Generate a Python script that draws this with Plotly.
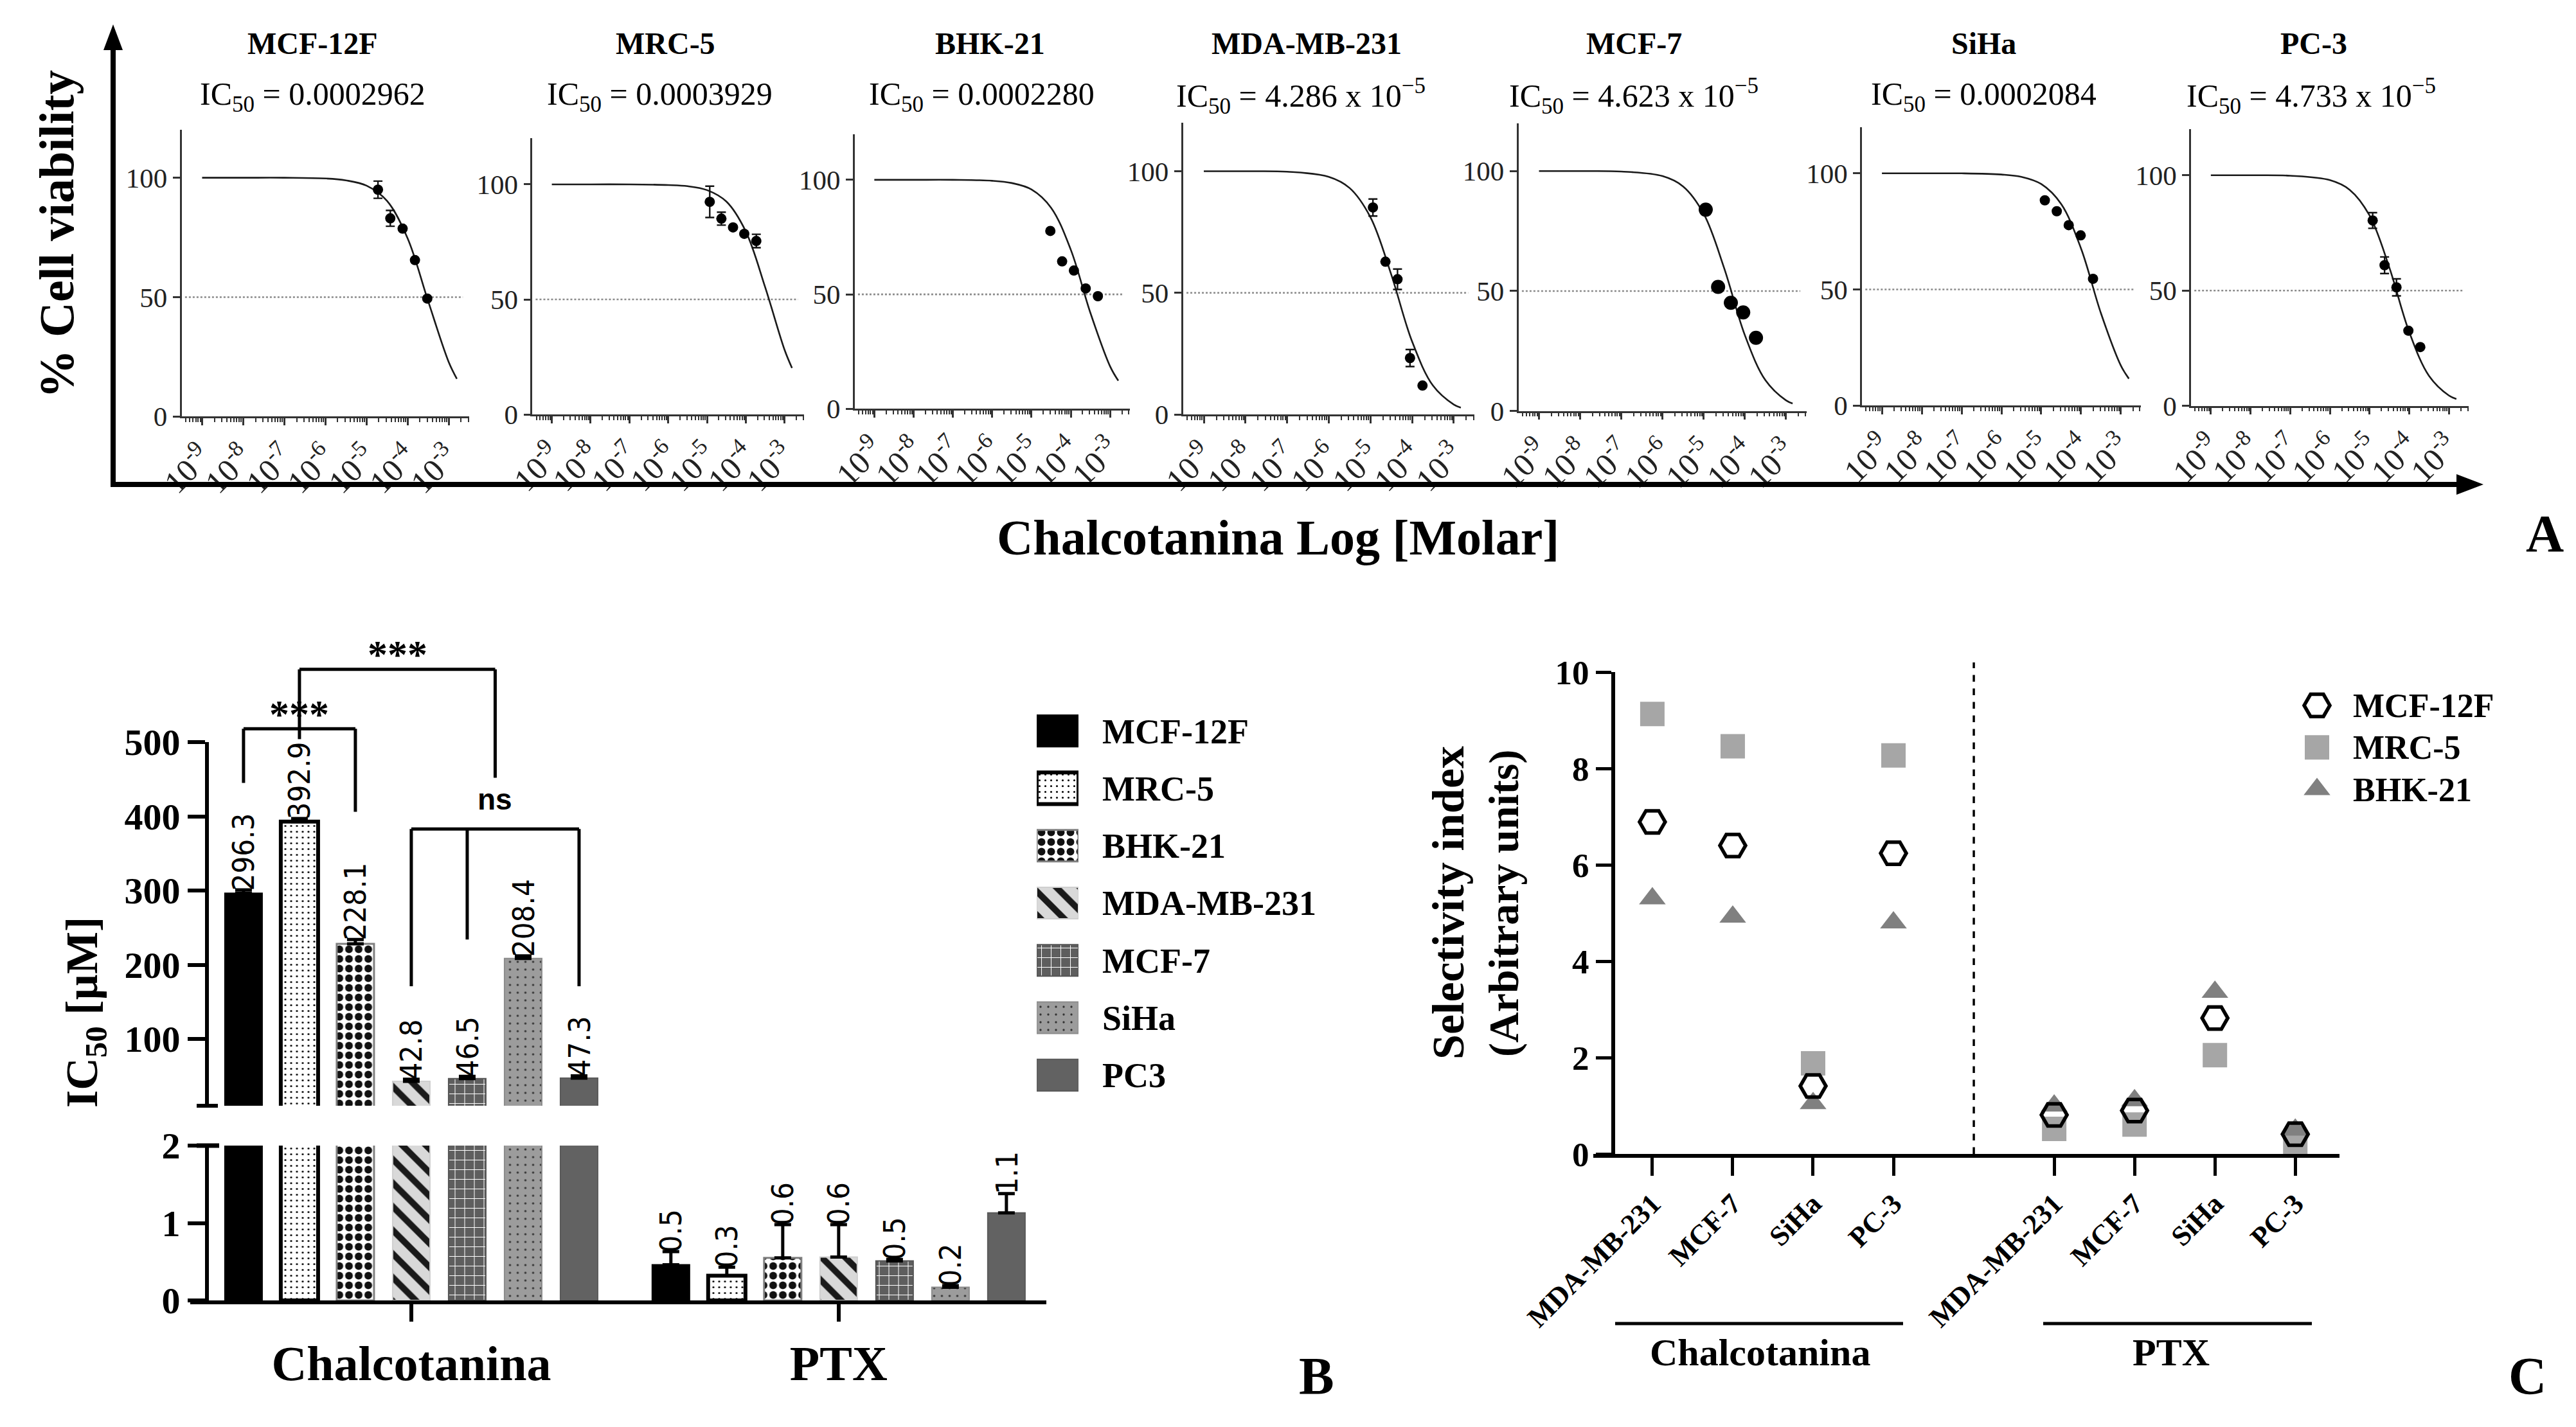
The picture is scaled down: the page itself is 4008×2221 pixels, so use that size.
import numpy as np
import plotly.graph_objects as go

W, H = 4008, 2221
SERIF = "Liberation Serif, Times New Roman, serif"
NARROW = "Liberation Sans Narrow, DejaVu Sans Condensed, Liberation Sans, sans-serif"
SANS = "Liberation Sans, Arial, sans-serif"

# ======================= DATA =======================
# ---- Panel A : dose-response curves ----
a_cells = ["MCF-12F", "MRC-5", "BHK-21", "MDA-MB-231", "MCF-7", "SiHa", "PC-3"]
a_ic50_text = ["0.0002962", "0.0003929", "0.0002280", "4.286 x 10<sup>−5</sup>",
               "4.623 x 10<sup>−5</sup>", "0.0002084", "4.733 x 10<sup>−5</sup>"]
a_tick_exp = [-9, -8, -7, -6, -5, -4, -3]
# measured points (log10 molar), % viability and SEM
a_dose_log = [
    [-4.72, -4.42, -4.12, -3.82, -3.52],
    [-4.93, -4.63, -4.33, -4.04, -3.73],
    [-4.52, -4.22, -3.92, -3.62, -3.31],
    [-4.94, -4.64, -4.35, -4.05, -3.75],
    [-4.95, -4.65, -4.34, -4.04, -3.73],
    [-4.91, -4.61, -4.31, -4.01, -3.70],
    [-4.92, -4.62, -4.32, -4.02, -3.72],
]
a_viability = [
    [95.0, 83.0, 78.7, 65.5, 49.4],
    [92.4, 85.1, 81.3, 78.5, 75.4],
    [77.7, 64.4, 60.4, 52.6, 49.2],
    [85.1, 62.8, 55.6, 23.2, 11.9],
    [83.9, 51.7, 45.1, 41.1, 30.5],
    [88.4, 83.7, 77.7, 73.3, 54.6],
    [80.4, 61.0, 51.4, 32.6, 25.5],
]
a_sem = [
    [3.6, 3.3, 0, 0, 0],
    [6.8, 2.8, 0, 0, 2.9],
    [0, 0, 0, 0, 0],
    [3.5, 0, 4.2, 3.5, 0],
    [0, 0, 0, 0, 0],
    [0, 0, 0, 0, 0],
    [3.4, 3.6, 3.7, 0, 0],
]
# fitted curves at these log10 doses
fit_log = [-9, -8, -7, -6, -5.5, -5, -4.5, -4, -3.5, -3]
fit_viability = [
    [100, 100, 100, 99.7, 98.9, 96.7, 90.3, 74.7, 48.4, 22.9],
    [100, 100, 100, 99.7, 99.2, 97.5, 92.5, 79.5, 55.2, 28.0],
    [100, 100, 100, 99.6, 98.6, 95.8, 87.8, 69.5, 41.9, 18.6],
    [100, 100, 99.8, 97.7, 93.1, 81.1, 57.5, 30.0, 11.9, 4.1],
    [100, 100, 99.8, 97.9, 93.6, 82.2, 59.4, 31.6, 12.8, 4.4],
    [100, 100, 100, 99.5, 98.5, 95.4, 86.8, 67.6, 39.7, 17.2],
    [100, 100, 99.8, 97.9, 93.7, 82.6, 60.0, 32.1, 13.0, 4.5],
]
fit_end_log = [-2.80, -2.81, -2.79, -2.83, -2.84, -2.80, -2.81]
fit_end_viability = [15.8, 20.2, 12.3, 2.8, 3.1, 11.6, 3.0]

# ---- Panel B : IC50 bars ----
b_groups = ["Chalcotanina", "PTX"]
b_series = ["MCF-12F", "MRC-5", "BHK-21", "MDA-MB-231", "MCF-7", "SiHa", "PC3"]
b_chalco = [296.3, 392.9, 228.1, 42.8, 46.5, 208.4, 47.3]
b_chalco_err = [4.5, 4.0, 6.0, 3.0, 3.0, 3.5, 3.0]
b_ptx = [0.46, 0.32, 0.55, 0.56, 0.51, 0.17, 1.13]
b_ptx_err = [0.17, 0.11, 0.43, 0.42, 0.02, 0.02, 0.25]
b_chalco_labels = ["296.3", "392.9", "228.1", "42.8", "46.5", "208.4", "47.3"]
b_ptx_labels = ["0.5", "0.3", "0.6", "0.6", "0.5", "0.2", "1.1"]

# ---- Panel C : selectivity index ----
c_groups = ["Chalcotanina", "PTX"]
c_cancer = ["MDA-MB-231", "MCF-7", "SiHa", "PC-3"]
c_series = ["MCF-12F", "MRC-5", "BHK-21"]
si_mcf12f = [6.89, 6.40, 1.41, 6.24, 0.81, 0.90, 2.82, 0.41]
si_mrc5 = [9.13, 8.46, 1.88, 8.27, 0.52, 0.61, 2.05, 0.24]
si_bhk21 = [5.30, 4.92, 1.05, 4.80, 1.00, 1.11, 3.36, 0.50]

# ======================= STYLES / POSITIONS =======================
def fx(px):
    return px / W

def fy(py):
    return 1 - py / H

def axk(letter, n):
    return f"{letter}axis" if n == 1 else f"{letter}axis{n}"

def axr(letter, n):
    return letter if n == 1 else f"{letter}{n}"

annotations = []
shapes = []

def ann(x, y, text, font, xref="paper", yref="paper", **kw):
    d = dict(x=x, y=y, xref=xref, yref=yref, text=text, font=font, showarrow=False,
             xanchor="center", yanchor="middle")
    d.update(kw)
    annotations.append(d)

# panel A plot boxes in pixels (x0, x1, ytop, ybottom)
A_box = [(274.5, 722, 194.3, 640.3), (820.4, 1243, 207.3, 637.1), (1321.8, 1749.7, 200.6, 628.4),
         (1832.6, 2286.3, 182.8, 637.1), (2354.5, 2802.9, 183.6, 631.6), (2889.1, 3322.9, 189.5, 623.3),
         (3401, 3833, 193, 623.7)]
A_name_x = [478, 1027, 1532, 2025, 2534, 3078, 3592]
A_ic_x = [478, 1018, 1519, 2016, 2534, 3078, 3588]
A_dot = [16, 16, 16, 16, 22, 16, 16]

b_style = [
    dict(color="black", pattern=dict(shape=""), line=dict(color="black", width=2)),
    dict(color="white", pattern=dict(shape=".", bgcolor="white", fgcolor="black", size=9, solidity=0.09, fillmode="replace"),
         line=dict(color="black", width=6)),
    dict(color="white", pattern=dict(shape=".", bgcolor="white", fgcolor="#111", size=15, solidity=0.5, fillmode="replace"),
         line=dict(color="#808080", width=3)),
    dict(color="#d9d9d9", pattern=dict(shape="\\", bgcolor="#d9d9d9", fgcolor="#1a1a1a", size=26, solidity=0.38, fillmode="replace"),
         line=dict(color="#cfcfcf", width=2)),
    dict(color="#5e5e5e", pattern=dict(shape="+", bgcolor="#5e5e5e", fgcolor="white", size=15, solidity=0.13, fillmode="replace"),
         line=dict(color="#555555", width=2)),
    dict(color="#9c9c9c", pattern=dict(shape=".", bgcolor="#9c9c9c", fgcolor="#333", size=12, solidity=0.06, fillmode="replace"),
         line=dict(color="#8c8c8c", width=2)),
    dict(color="#626262", pattern=dict(shape=""), line=dict(color="#5a5a5a", width=2)),
]

layout = dict(template="none", width=W, height=H, autosize=False,
              margin=dict(l=0, r=0, t=0, b=0, pad=0, autoexpand=False),
              paper_bgcolor="white", plot_bgcolor="rgba(0,0,0,0)", showlegend=False,
              barmode="group", bargap=0.084, bargroupgap=0.333,
              font=dict(family=SERIF, color="black", size=30))
fig = go.Figure()

# ======================= PANEL A =======================
for i in range(7):
    n = i + 1
    x0, x1, yt, yb = A_box[i]
    layout[axk("x", n)] = dict(
        domain=[fx(x0), fx(x1)], anchor=axr("y", n), type="log", range=[-9.5, -2.5], automargin=False,
        showline=True, linecolor="#333", linewidth=2.5, showgrid=False, zeroline=False,
        ticks="outside", ticklen=11, tickwidth=2.5, tickcolor="#333",
        tickvals=[10.0 ** e for e in a_tick_exp],
        ticktext=[f"10<sup>{e}</sup>" for e in a_tick_exp],
        tickangle=-45, tickfont=dict(family=SERIF, size=50, color="#222"),
        minor=dict(ticks="outside", ticklen=6, tickwidth=1.8, tickcolor="#333", dtick="D1", showgrid=False),
    )
    layout[axk("y", n)] = dict(
        domain=[fy(yb), fy(yt)], anchor=axr("x", n), range=[0, 120], automargin=False,
        tickvals=[0, 50, 100], showline=True, linecolor="#333", linewidth=2.5,
        showgrid=False, zeroline=False, ticks="outside", ticklen=11, tickwidth=2.5, tickcolor="#333",
        tickfont=dict(family=SERIF, size=43, color="#222"),
    )
    fig.add_trace(go.Scatter(
        x=10.0 ** np.array(fit_log + [fit_end_log[i]]),
        y=fit_viability[i] + [fit_end_viability[i]],
        mode="lines", line=dict(color="#1a1a1a", width=2.6, shape="spline", smoothing=1.0),
        xaxis=axr("x", n), yaxis=axr("y", n), hoverinfo="skip"))
    has_err = any(v > 0 for v in a_sem[i])
    fig.add_trace(go.Scatter(
        x=10.0 ** np.array(a_dose_log[i]), y=a_viability[i], mode="markers",
        marker=dict(color="black", size=A_dot[i]),
        error_y=dict(type="data", array=a_sem[i], visible=has_err, color="#111", thickness=2.4, width=7),
        xaxis=axr("x", n), yaxis=axr("y", n), cliponaxis=False))
    shapes.append(dict(type="line", xref=f"{axr('x', n)} domain", yref=axr("y", n),
                       x0=0.012, x1=0.978, y0=50, y1=50, layer="below",
                       line=dict(color="#8a8a8a", width=2.6, dash="dot")))
    ann(fx(A_name_x[i]), fy(60), a_cells[i], dict(family=SERIF, size=48, weight="bold"))
    ann(fx(A_ic_x[i]), fy(142), f"IC<sub>50</sub> = {a_ic50_text[i]}", dict(family=SERIF, size=50))

# big axis arrows of panel A
shapes.append(dict(type="line", xref="paper", yref="paper", x0=fx(168), x1=fx(168), y0=fy(750), y1=fy(64),
                   line=dict(color="black", width=8)))
shapes.append(dict(type="path", xref="paper", yref="paper",
                   path=f"M {fx(168)},{fy(30)} L {fx(153)},{fy(70)} L {fx(183)},{fy(70)} Z",
                   fillcolor="black", line=dict(width=0)))
shapes.append(dict(type="line", xref="paper", yref="paper", x0=fx(164), x1=fx(3818), y0=fy(746), y1=fy(746),
                   line=dict(color="black", width=8)))
shapes.append(dict(type="path", xref="paper", yref="paper",
                   path=f"M {fx(3856)},{fy(746)} L {fx(3814)},{fy(730)} L {fx(3814)},{fy(762)} Z",
                   fillcolor="black", line=dict(width=0)))
ann(fx(80), fy(357), "% Cell viability", dict(family=SERIF, size=76, weight="bold"), textangle=-90)
ann(fx(1980), fy(828), "Chalcotanina Log [Molar]", dict(family=SERIF, size=78, weight="bold"))
ann(fx(3951), fy(822), "A", dict(family=SERIF, size=82, weight="bold"))

# ======================= PANEL B =======================
B_xr = [-0.518, 1.486]
B_xdom = [fx(287.5), fx(1620)]
B_axis_pos = fx(314)
slot = (1 - layout["bargap"]) / 7
axis_font_B = dict(family=SERIF, size=58, weight="bold")

layout["xaxis8"] = dict(domain=B_xdom, anchor="y8", type="category", categoryarray=b_groups,
                        range=B_xr, visible=False, automargin=False)
layout["yaxis8"] = dict(domain=[fy(1713), fy(1147)], anchor="free", position=B_axis_pos, range=[10, 500],
                        tickvals=[100, 200, 300, 400, 500], showline=True, linewidth=6, linecolor="black",
                        ticks="outside", ticklen=27, tickwidth=6, tickcolor="black", automargin=False,
                        showgrid=False, zeroline=False, tickfont=axis_font_B)
layout["xaxis9"] = dict(domain=B_xdom, anchor="y9", type="category", categoryarray=b_groups, range=B_xr,
                        showline=True, linewidth=6, linecolor="black", ticks="outside", ticklen=27,
                        tickwidth=6, tickcolor="black", showgrid=False, zeroline=False, automargin=False,
                        tickfont=dict(family=SERIF, size=76, weight="bold"))
layout["yaxis9"] = dict(domain=[fy(2016), fy(1775)], anchor="free", position=B_axis_pos, range=[0, 2],
                        tickvals=[0, 1, 2], showline=True, linewidth=6, linecolor="black",
                        ticks="outside", ticklen=27, tickwidth=6, tickcolor="black", automargin=False,
                        showgrid=False, zeroline=False, tickfont=axis_font_B)

for i, name in enumerate(b_series):
    st = b_style[i]
    for xa, ya in (("x8", "y8"), ("x9", "y9")):
        fig.add_trace(go.Bar(
            x=b_groups, y=[b_chalco[i], b_ptx[i]], name=name, xaxis=xa, yaxis=ya,
            marker=dict(color=st["color"], pattern=st["pattern"], line=st["line"]),
            error_y=dict(type="data", symmetric=False, array=[b_chalco_err[i], b_ptx_err[i]],
                         arrayminus=[0, 0], color="black", thickness=5, width=13)))
    off = (i - 3) * slot
    lab_font = dict(family=NARROW, size=47, color="black")
    ann(0 + off, b_chalco[i] + b_chalco_err[i], b_chalco_labels[i], lab_font, xref="x8", yref="y8",
        textangle=-90, yanchor="bottom", yshift=-3)
    ann(1 + off, b_ptx[i] + b_ptx_err[i], b_ptx_labels[i], lab_font, xref="x9", yref="y9",
        textangle=-90, yanchor="bottom", yshift=-3)

# significance brackets (top subplot, data units converted to domain fractions)
def bxd(v):
    return (v - B_xr[0]) / (B_xr[1] - B_xr[0])

def byd(v):
    return (v - 10) / (500 - 10)

bar_c = [(i - 3) * slot for i in range(7)]
ns_mid = (bar_c[3] + bar_c[6]) / 2
bracket_lines = [
    (bar_c[0], 445, bar_c[0], 518), (bar_c[0], 518, bar_c[2], 518), (bar_c[2], 518, bar_c[2], 406),
    (bar_c[1], 504, bar_c[1], 598), (bar_c[1], 598, ns_mid, 598), (ns_mid, 598, ns_mid, 452),
    (bar_c[3], 171, bar_c[3], 383), (bar_c[3], 383, bar_c[6], 383), (bar_c[6], 383, bar_c[6], 171),
    (bar_c[4], 383, bar_c[4], 234),
]
for (xa0, ya0, xa1, ya1) in bracket_lines:
    shapes.append(dict(type="line", xref="x8 domain", yref="y8 domain",
                       x0=bxd(xa0), x1=bxd(xa1), y0=byd(ya0), y1=byd(ya1),
                       line=dict(color="black", width=5)))
star_font = dict(family=SERIF, size=62, weight="bold")
ann(bxd(bar_c[1]), byd(538), "***", star_font, xref="x8 domain", yref="y8 domain")
ann(bxd((bar_c[1] + ns_mid) / 2), byd(619), "***", star_font, xref="x8 domain", yref="y8 domain")
ann(bxd(ns_mid), byd(423), "ns", dict(family=SANS, size=46, weight="bold"), xref="x8 domain", yref="y8 domain")

# axis-break marks
shapes.append(dict(type="line", xref="paper", yref="paper", x0=fx(298), x1=fx(331), y0=fy(1713), y1=fy(1713),
                   line=dict(color="black", width=6)))
shapes.append(dict(type="line", xref="paper", yref="paper", x0=fx(298), x1=fx(333), y0=fy(1775), y1=fy(1775),
                   line=dict(color="black", width=7)))

ann(fx(125), fy(1568), "IC<sub>50</sub> [µM]", dict(family=SERIF, size=70, weight="bold"), textangle=-90)
ann(fx(2040), fy(2133), "B", dict(family=SERIF, size=82, weight="bold"))

# legend of panel B (swatch bars on a helper axis, one trace per series at a shared slot)
layout["xaxis10"] = dict(domain=[fx(1605), fx(1670)], anchor="y10", range=[0, 1], visible=False,
                         automargin=False)
layout["yaxis10"] = dict(domain=[fy(1710), fy(1085)], anchor="x10", type="category", categoryarray=b_series,
                         autorange="reversed", side="right", showline=False, ticks="", showgrid=False,
                         zeroline=False, ticklabelstandoff=36, automargin=False,
                         tickfont=dict(family=SERIF, size=54, weight="bold"))
for i, name in enumerate(b_series):
    st = b_style[i]
    fig.add_trace(go.Bar(
        y=[name], x=[1], base=0, orientation="h", width=0.55, offsetgroup="legendB",
        xaxis="x10", yaxis="y10",
        marker=dict(color=st["color"], pattern=st["pattern"], line=st["line"]),
        hoverinfo="skip"))

# ======================= PANEL C =======================
c_pos = [g * (len(c_cancer) + 1) + j for g in range(len(c_groups)) for j in range(len(c_cancer))]
layout["xaxis11"] = dict(domain=[fx(2471), fx(3632)], anchor="y11", range=[-0.735, 8.55],
                         tickvals=c_pos, ticktext=c_cancer * len(c_groups), tickangle=-45,
                         showline=True, linewidth=6, linecolor="black", ticks="outside", ticklen=28,
                         tickwidth=5, tickcolor="black", showgrid=False, zeroline=False, automargin=False,
                         tickfont=dict(family=SERIF, size=44, weight="bold"))
layout["yaxis11"] = dict(domain=[fy(1788), fy(1038)], anchor="free", position=fx(2502), range=[0, 10],
                         dtick=2, showline=True, linewidth=6, linecolor="black", ticks="outside",
                         ticklen=24, tickwidth=5, tickcolor="black", showgrid=False, zeroline=False,
                         automargin=False, tickfont=dict(family=SERIF, size=53, weight="bold"))
c_marker = {
    "MRC-5": dict(symbol="square", size=38, color="#a6a6a6"),
    "BHK-21": dict(symbol="triangle-up", size=36, color="#808080"),
    "MCF-12F": dict(symbol="hexagon2-open", size=40, color="black", line=dict(width=5.5, color="black")),
}
for name, vals in (("MRC-5", si_mrc5), ("BHK-21", si_bhk21), ("MCF-12F", si_mcf12f)):
    fig.add_trace(go.Scatter(x=c_pos, y=vals, mode="markers", marker=c_marker[name], name=name,
                             xaxis="x11", yaxis="y11", cliponaxis=False))
shapes.append(dict(type="line", xref="x11", yref="y11 domain", x0=len(c_cancer), x1=len(c_cancer),
                   y0=0, y1=1.02, line=dict(color="black", width=3.5, dash="dash")))
shapes.append(dict(type="line", xref="paper", yref="paper", x0=fx(2505), x1=fx(2953), y0=fy(2052), y1=fy(2052),
                   line=dict(color="black", width=5)))
shapes.append(dict(type="line", xref="paper", yref="paper", x0=fx(3171), x1=fx(3589), y0=fy(2052), y1=fy(2052),
                   line=dict(color="black", width=5)))
ann(fx(2730), fy(2097), c_groups[0], dict(family=SERIF, size=60, weight="bold"))
ann(fx(3370), fy(2097), c_groups[1], dict(family=SERIF, size=60, weight="bold"))
ann(fx(2245), fy(1397), "Selectivity index", dict(family=SERIF, size=70, weight="bold"), textangle=-90)
ann(fx(2332), fy(1398), "(Arbitrary units)", dict(family=SERIF, size=66, weight="bold"), textangle=-90)
ann(fx(3924), fy(2133), "C", dict(family=SERIF, size=82, weight="bold"))

# legend of panel C (helper axis)
layout["xaxis12"] = dict(domain=[fx(3578), fx(3616)], anchor="y12", range=[-1, 1], visible=False,
                         automargin=False)
layout["yaxis12"] = dict(domain=[fy(1253), fy(1055)], anchor="x12", type="category", categoryarray=c_series,
                         autorange="reversed", side="right", showline=False, ticks="", showgrid=False,
                         zeroline=False, ticklabelstandoff=36, automargin=False,
                         tickfont=dict(family=SERIF, size=52, weight="bold"))
for name in c_series:
    fig.add_trace(go.Scatter(x=[0], y=[name], mode="markers", xaxis="x12", yaxis="y12", cliponaxis=False,
                             marker=c_marker[name], hoverinfo="skip"))

layout["annotations"] = annotations
layout["shapes"] = shapes
fig.update_layout(**layout)
fig.write_html("out.html")
